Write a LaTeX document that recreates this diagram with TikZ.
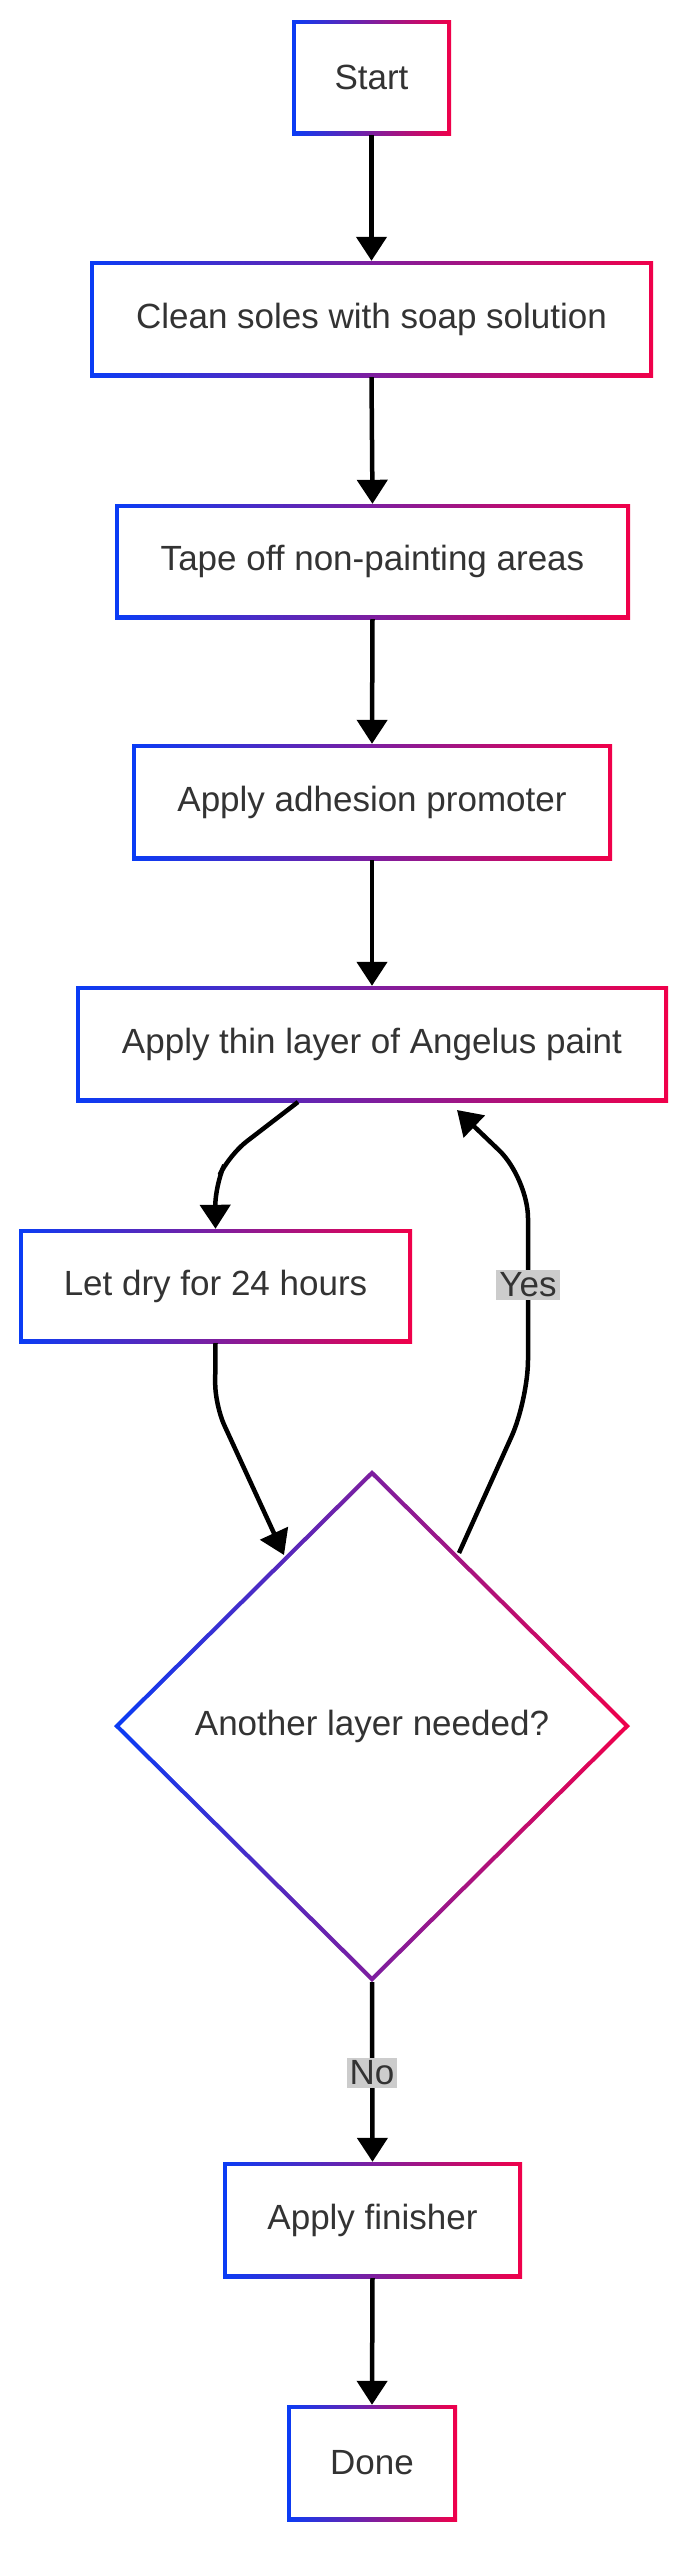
\documentclass[tikz,border=0pt]{standalone}
\usepackage{fontspec}
\setmainfont{Liberation Sans}
\usetikzlibrary{arrows.meta}
\definecolor{gblue}{HTML}{0A3CF5}
\definecolor{gred}{HTML}{F0004A}
\definecolor{txt}{HTML}{333333}
\definecolor{lbl}{HTML}{CCCCCC}
\newcommand{\gbox}[6]{%
  \shade[left color=gblue,right color=gred] (#2,#3) rectangle (#4,#5);
  \fill[white] (#2+4,#3+4) rectangle (#4-4,#5-4);
  \path (#2,#3) -- (#4,#5) node[midway,inner sep=0pt,minimum width=#4-#2,minimum height=#5-#3,txtst] (#1) {#6};
}
\begin{document}
\begin{tikzpicture}[x=1pt,y=-1pt,
  txtst/.style={text=txt,font=\fontsize{35}{42}\selectfont},
  conn/.style={line width=4.5pt,line cap=butt,-{Triangle[length=24pt,width=30pt]},rounded corners=22pt},
  lab/.style={fill=lbl,text=txt,font=\fontsize{35}{42}\selectfont,inner sep=3pt}]
\useasboundingbox[fill=white] (0,0) rectangle (692,2560);
\gbox{start}{292}{20}{451}{135}{Start}
\gbox{clean}{90}{261}{653}{377}{Clean soles with soap solution}
\gbox{tape}{115}{504}{630}{619}{Tape off non-painting areas}
\gbox{adh}{132}{744}{612}{860}{Apply adhesion promoter}
\gbox{thin}{76}{986}{668}{1102}{Apply thin layer of Angelus paint}
\gbox{dry}{19}{1229}{412}{1343}{Let dry for 24 hours}
\gbox{fin}{223}{2162}{522}{2278}{Apply finisher}
\gbox{done}{287}{2405}{457}{2521}{Done}
% diamond
\shade[left color=gblue,right color=gred] (372,1470)--(630,1726)--(372,1982)--(114,1726)--cycle;
\fill[white] (372,1476)--(624,1726)--(372,1976)--(120,1726)--cycle;
\node[txtst,inner sep=0pt] (dec) at (372,1726) {Another layer needed?};
\coordinate (dtop) at (372,1470);
\coordinate (dbot) at (372,1982);
\coordinate (dl) at (284,1555);
\coordinate (dr) at (459,1553);
% connectors
\draw[conn] (start.south) -- (clean.north);
\draw[conn] (clean.south) -- (tape.north);
\draw[conn] (tape.south) -- (adh.north);
\draw[conn] (adh.south) -- (thin.north);
\draw[conn] (298,1102) -- (229,1155) -- (215,1185) -- (dry.north);
\draw[conn] (dry.south) -- (215,1405) -- (dl);
\draw[conn,rounded corners=40pt] (dr) -- (528,1400) -- (528,1178) -- (457,1110);
\node[lab] (yes) at (528,1285) {Yes};
\draw[conn] (dbot) -- (fin.north);
\node[lab] (no) at (372,2073) {No};
\draw[conn] (fin.south) -- (done.north);
\end{tikzpicture}
\end{document}
